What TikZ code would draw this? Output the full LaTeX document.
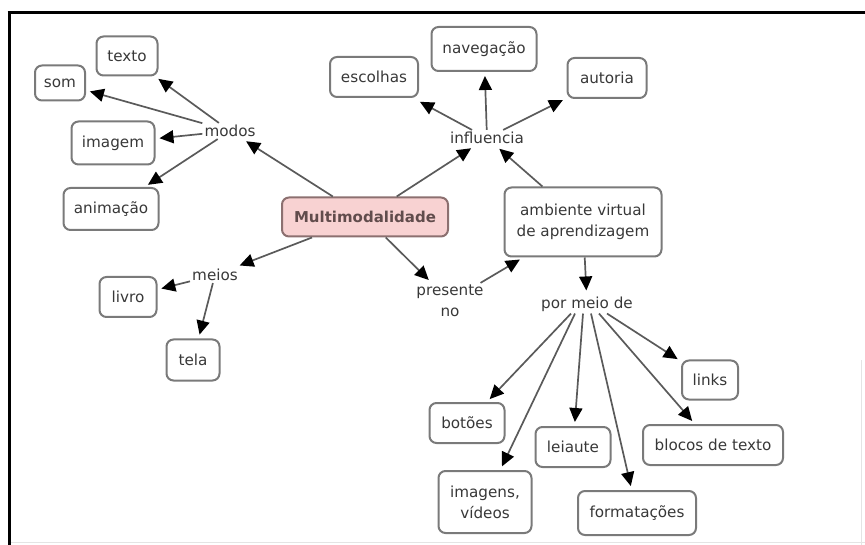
\documentclass[tikz,border=0pt]{standalone}
\usepackage{fontspec}
\setmainfont{DejaVu Sans}
\usetikzlibrary{arrows.meta}
\definecolor{boxline}{HTML}{7A7A7A}
\definecolor{txt}{HTML}{383838}
\definecolor{edge}{HTML}{5A5A5A}
\definecolor{pinkfill}{HTML}{F8D2D2}
\definecolor{pinkline}{HTML}{8C7070}
\definecolor{faint}{HTML}{E4E4E4}

\begin{document}
\begin{tikzpicture}[x=1pt,y=-1pt,
  every node/.style={font=\fontsize{15.2}{21}\selectfont, text=txt, align=center},
  concept/.style={draw=boxline, line width=2pt, rounded corners=7pt, fill=white, inner sep=0pt},
  phrase/.style={inner sep=2pt},
  link/.style={draw=edge, line width=1.7pt, shorten >=4pt,
    -{Triangle[length=14pt,width=13pt,color=black]}}
]
\useasboundingbox (0,0) rectangle (865,545);

% frame
\draw[faint, line width=1pt] (10,542) -- (865,542);
\draw[faint, line width=1pt] (861,360) -- (861,545);
\draw[black, line width=3pt] (7.5,13) -- (865,13);
\draw[black, line width=3pt] (9,11.5) -- (9,545);

% central concept
\node[concept, fill=pinkfill, draw=pinkline, minimum width=166pt, minimum height=39pt,
      font=\fontsize{15}{21}\selectfont\bfseries, text=black!80!red!40!gray] (multi) at (365,217) {Multimodalidade};

% modos branch
\node[phrase] (modos) at (230,131) {modos};
\node[concept, minimum width=61pt, minimum height=39pt] (texto) at (127,56) {texto};
\node[concept, minimum width=50pt, minimum height=35pt] (som) at (60,83) {som};
\node[concept, minimum width=83pt, minimum height=43pt] (imagem) at (113,143) {imagem};
\node[concept, minimum width=95pt, minimum height=42pt] (animacao) at (111,209) {animação};

% influencia branch
\node[phrase] (influencia) at (487,138) {influencia};
\node[concept, minimum width=88pt, minimum height=40pt] (escolhas) at (374,77) {escolhas};
\node[concept, minimum width=105pt, minimum height=44pt] (navegacao) at (484,49) {navegação};
\node[concept, minimum width=79pt, minimum height=40pt] (autoria) at (607,78) {autoria};

% meios branch
\node[phrase] (meios) at (215,275) {meios};
\node[concept, minimum width=57pt, minimum height=40pt] (livro) at (128,297) {livro};
\node[concept, minimum width=53pt, minimum height=41pt] (tela) at (193,360) {tela};

% ambiente virtual
\node[phrase] (presente) at (450,301) {presente\\no};
\node[concept, minimum width=157pt, minimum height=69pt] (ambiente) at (583,222) {ambiente virtual\\de aprendizagem};
\node[phrase] (pormeio) at (587,304) {por meio de};

\node[concept, minimum width=56pt, minimum height=39pt] (links) at (710,380) {links};
\node[concept, minimum width=75pt, minimum height=40pt] (botoes) at (467,423) {botões};
\node[concept, minimum width=75pt, minimum height=40pt] (leiaute) at (573,447) {leiaute};
\node[concept, minimum width=140pt, minimum height=40pt] (blocos) at (713,445) {blocos de texto};
\node[concept, minimum width=93pt, minimum height=62pt] (imagens) at (485,502) {imagens,\\vídeos};
\node[concept, minimum width=118pt, minimum height=44pt] (formatacoes) at (637,513) {formatações};

% connectors
\draw[link] (multi) -- (modos);
\draw[link] (modos) -- (texto);
\draw[link] (modos) -- (som);
\draw[link] (modos) -- (imagem);
\draw[link] (modos) -- (animacao);

\draw[link] (multi) -- (influencia);
\draw[link] (ambiente) -- (influencia);
\draw[link, shorten >=8pt] (influencia) -- (escolhas);
\draw[link] (influencia) -- (navegacao);
\draw[link] (influencia) -- (autoria);

\draw[link] (multi) -- (meios);
\draw[link] (meios) -- (livro);
\draw[link] (meios) -- (tela);

\draw[link] (multi) -- (presente);
\draw[link] (presente) -- (ambiente);
\draw[link] (ambiente) -- (pormeio);

\draw[link] ([xshift=-16pt]pormeio.south) -- (botoes);
\draw[link] ([xshift=-12pt]pormeio.south) -- (imagens);
\draw[link] ([xshift=-4pt]pormeio.south) -- (leiaute);
\draw[link] ([xshift=4pt]pormeio.south) -- (formatacoes);
\draw[link] ([xshift=12pt]pormeio.south) -- (blocos);
\draw[link] ([xshift=20pt]pormeio.south) -- (links);
\end{tikzpicture}
\end{document}
